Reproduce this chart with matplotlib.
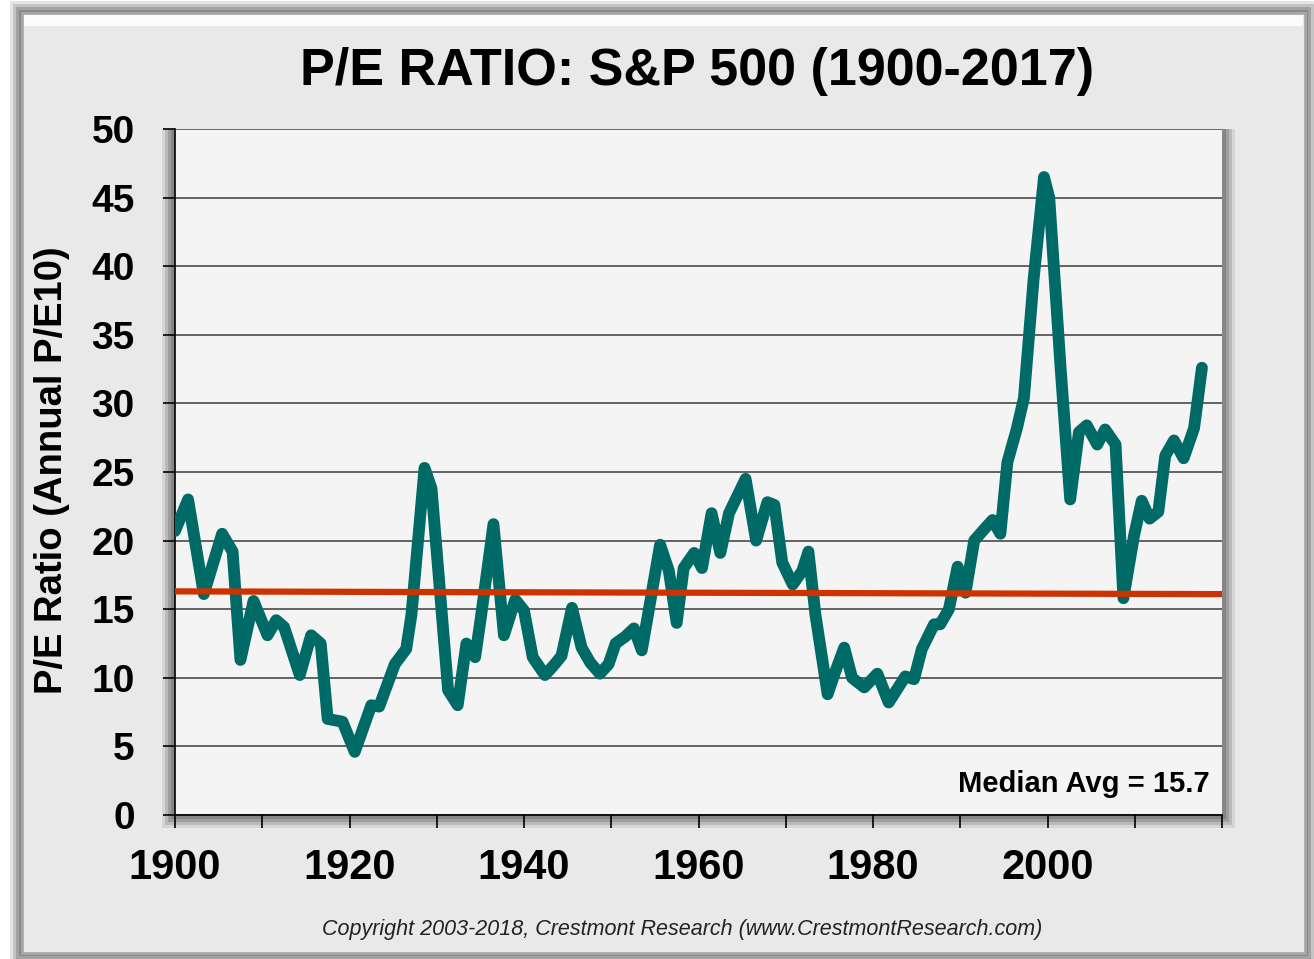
import matplotlib
matplotlib.use("Agg")
import matplotlib.pyplot as plt
from matplotlib.patches import Rectangle

# data (local turning points of the P/E10 line)
years = [1900, 1901.5, 1903.3, 1905.4, 1906.6, 1907.5, 1909, 1910.6, 1911.6, 1912.5,
         1914.3, 1915.6, 1916.7, 1917.5, 1919.2, 1920.6, 1922.5, 1923.4, 1925.2, 1926.5,
         1927.1, 1928.6, 1929.4, 1931.3, 1932.4, 1933.4, 1934.4, 1935.1, 1936.5, 1937.7,
         1939, 1940, 1941, 1942.4, 1943.4, 1944.3, 1945.5, 1946.6, 1947.6, 1948.7,
         1949.7, 1950.5, 1951.6, 1952.6, 1953.5, 1954.1, 1955.6, 1956.6, 1957.5, 1958.3,
         1959.5, 1960.4, 1961.5, 1962.5, 1963.5, 1965.4, 1966.6, 1967.9, 1968.7, 1969.6,
         1970.8, 1971.9, 1972.6, 1973.4, 1974.8, 1975.6, 1976.7, 1977.6, 1979, 1980.5,
         1981.8, 1983.7, 1984.7, 1985.6, 1987, 1987.7, 1988.7, 1989.7, 1990.6, 1991.6,
         1992.7, 1993.7, 1994.6, 1995.4, 1996.5, 1997.3, 1998.4, 1999.6, 2000.2, 2001.5,
         2002.6, 2003.6, 2004.5, 2005.7, 2006.6, 2007.8, 2008.7, 2009.9, 2010.8, 2011.7,
         2012.7, 2013.5, 2014.5, 2015.6, 2016.8, 2017.7]
pe10 = [20.7, 23.0, 16.1, 20.5, 19.2, 11.3, 15.6, 13.1, 14.2, 13.7,
        10.2, 13.1, 12.5, 7.0, 6.8, 4.6, 8.0, 7.9, 11.0, 12.1,
        14.6, 25.3, 23.8, 9.1, 8.0, 12.5, 11.5, 14.6, 21.2, 13.1,
        15.7, 14.9, 11.5, 10.2, 10.9, 11.6, 15.1, 12.2, 11.1, 10.3,
        11.0, 12.5, 13.0, 13.6, 12.0, 14.2, 19.7, 17.8, 14.0, 18.0,
        19.1, 18.0, 22.0, 19.1, 22.0, 24.5, 20.0, 22.8, 22.6, 18.4,
        16.8, 17.8, 19.2, 14.6, 8.8, 10.3, 12.2, 10.0, 9.3, 10.3,
        8.2, 10.1, 9.9, 12.1, 13.9, 13.9, 15.0, 18.1, 16.2, 20.0,
        20.8, 21.5, 20.5, 25.7, 28.2, 30.4, 39.0, 46.5, 45.0, 32.6,
        23.0, 27.9, 28.4, 27.0, 28.1, 27.0, 15.8, 20.3, 22.9, 21.6,
        22.1, 26.2, 27.3, 26.0, 28.2, 32.6]
median_x = [1900, 2020]
median_y = [16.3, 16.1]

W, H = 1314, 959


def fx(px):
    return px / W


def fy(py):
    return 1 - py / H


fig = plt.figure(figsize=(W / 100, H / 100), dpi=100, facecolor="white")

# outer frame with soft shadow and bevel
for i, a in enumerate([0.2, 0.3, 0.45, 0.6]):
    d = 12 - i * 3
    fig.add_artist(Rectangle((fx(22 - d), fy(953 + d)), fx(1283 + 2 * d), (953 - 13 + 2 * d) / H,
                             transform=fig.transFigure, facecolor="#7a7a7a", alpha=a,
                             edgecolor="none", zorder=0))
fig.add_artist(Rectangle((fx(22), fy(953)), fx(1283), (953 - 13) / H, transform=fig.transFigure,
                         facecolor="#e9e9e9", edgecolor="#a8a8a8", lw=2, zorder=1))
fig.add_artist(Rectangle((fx(24), fy(26)), fx(1279), 11 / H, transform=fig.transFigure,
                         facecolor="#fbfbfb", edgecolor="none", zorder=1))

# shadow behind plot area
for i, a in enumerate([0.15, 0.25, 0.35, 0.45]):
    d = 13 - i * 3
    fig.add_artist(Rectangle((fx(175 - d), fy(815 + d)), fx(1047 + 2 * d), (815 - 129 + d) / H,
                             transform=fig.transFigure, facecolor="#6a6a6a", alpha=a,
                             edgecolor="none", zorder=1))

ax = fig.add_axes([fx(175), fy(815), fx(1222 - 175), (815 - 129) / H], zorder=2)
ax.set_facecolor("#f4f4f4")

ax.plot(years, pe10, color="#006a66", lw=8.5, solid_joinstyle="round",
        solid_capstyle="round", zorder=3)
ax.plot(median_x, median_y, color="#cc3300", lw=4.5, zorder=4)

ax.set_xlim(1900, 2020)
ax.set_ylim(0, 50)
ax.set_yticks(range(0, 51, 5))
ax.set_yticklabels([str(v) for v in range(0, 51, 5)])
xt = list(range(1900, 2021, 10))
ax.set_xticks(xt)
ax.set_xticklabels([str(y) if y % 20 == 0 and y < 2020 else "" for y in xt])
ax.grid(axis="y", color="#4a4a4a", lw=1.2, zorder=1)
ax.set_axisbelow(True)
for s in ["top", "right"]:
    ax.spines[s].set_visible(False)
for s in ["left", "bottom"]:
    ax.spines[s].set_color("black")
    ax.spines[s].set_linewidth(1.2)

ax.tick_params(axis="y", direction="out", length=9, width=1.2, pad=20,
               labelsize=28, color="black")
ax.tick_params(axis="x", direction="out", length=9.5, width=1.2, pad=14,
               labelsize=30, color="black")
for lbl in ax.get_xticklabels() + ax.get_yticklabels():
    lbl.set_fontfamily("Liberation Sans")
    lbl.set_fontweight("bold")

ax.text(0.988, 0.045, "Median Avg = 15.7", transform=ax.transAxes, ha="right", va="center",
        fontsize=21, fontweight="bold", family="Liberation Sans", color="black", zorder=5)

fig.text(fx(697), fy(72), "P/E RATIO: S&P 500 (1900-2017)", ha="center", va="center",
         fontsize=37.5, fontweight="bold", family="Liberation Sans", zorder=5)
fig.text(fx(52), fy(470), "P/E Ratio (Annual P/E10)", ha="center", va="center", rotation=90,
         fontsize=27.5, fontweight="bold", family="Liberation Sans", zorder=5)
fig.text(fx(682), fy(930), "Copyright 2003-2018, Crestmont Research (www.CrestmontResearch.com)",
         ha="center", va="center", fontsize=15.5, style="italic", family="Liberation Sans",
         color="#222222", zorder=5)

fig.savefig("out.png", dpi=100, facecolor=fig.get_facecolor())
